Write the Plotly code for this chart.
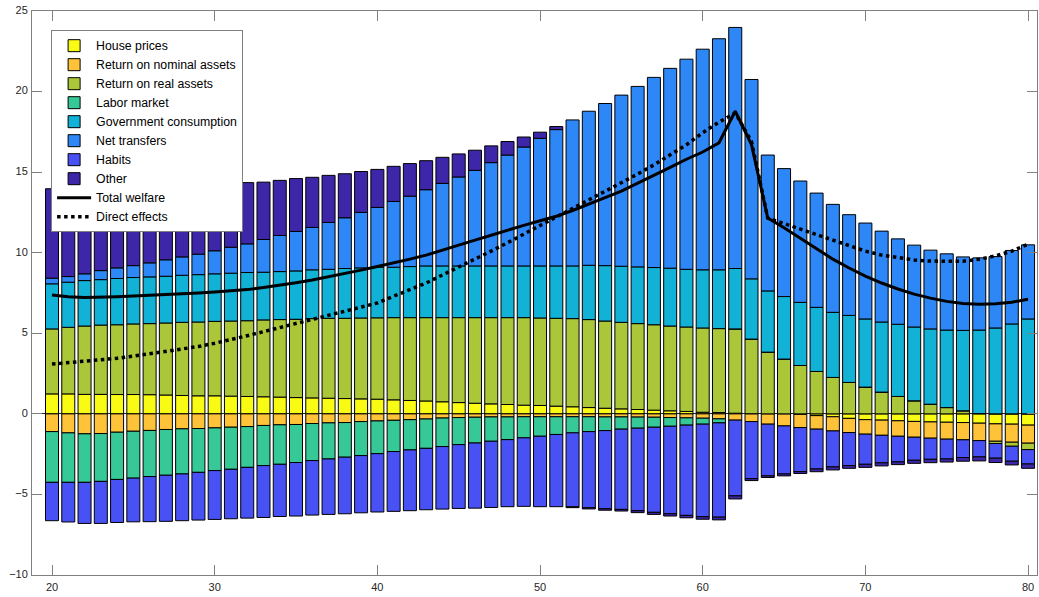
import plotly.graph_objects as go

ages = list(range(20, 81))

house = [1.24, 1.24, 1.21, 1.21, 1.20, 1.20, 1.19, 1.17, 1.14, 1.12,
         1.12, 1.10, 1.08, 1.06, 1.04, 1.01, 0.99, 0.97, 0.95, 0.93,
         0.91, 0.87, 0.83, 0.80, 0.75, 0.70, 0.66, 0.62, 0.58, 0.54,
         0.52, 0.48, 0.44, 0.39, 0.35, 0.31, 0.27, 0.23, 0.19, 0.15,
         0.10, 0.08, 0.04, 0.01, 0.00, 0.00, -0.03, -0.11, -0.18, -0.28,
         -0.36, -0.39, -0.43, -0.47, -0.50, -0.52, -0.54, -0.58, -0.62, -0.64,
         -0.70]

nominal = [-1.10, -1.18, -1.24, -1.22, -1.14, -1.08, -1.03, -0.97, -0.93, -0.91,
           -0.87, -0.83, -0.79, -0.72, -0.68, -0.66, -0.60, -0.56, -0.54, -0.48,
           -0.44, -0.40, -0.36, -0.32, -0.26, -0.23, -0.21, -0.19, -0.19, -0.18,
           -0.18, -0.18, -0.18, -0.18, -0.19, -0.19, -0.20, -0.21, -0.23, -0.25,
           -0.27, -0.31, -0.39, -0.48, -0.64, -0.75, -0.82, -0.84, -0.88, -0.88,
           -0.90, -0.94, -0.96, -0.98, -1.01, -1.05, -1.07, -1.08, -1.08, -1.12,
           -1.12]

real = [4.03, 4.13, 4.24, 4.30, 4.33, 4.38, 4.41, 4.47, 4.54, 4.58,
        4.62, 4.66, 4.70, 4.77, 4.81, 4.86, 4.92, 4.96, 4.98, 5.02,
        5.05, 5.10, 5.14, 5.17, 5.22, 5.27, 5.31, 5.35, 5.39, 5.43,
        5.43, 5.45, 5.47, 5.46, 5.41, 5.37, 5.33, 5.30, 5.26, 5.24,
        5.23, 5.21, 5.23, 4.63, 3.83, 3.40, 3.00, 2.63, 2.26, 1.95,
        1.66, 1.35, 1.08, 0.81, 0.60, 0.39, 0.19, 0.02, -0.14, -0.25,
        -0.40]

labor = [-3.15, -3.07, -3.01, -2.97, -2.93, -2.91, -2.86, -2.84, -2.80, -2.72,
         -2.65, -2.61, -2.53, -2.49, -2.45, -2.36, -2.30, -2.24, -2.15, -2.11,
         -2.03, -1.94, -1.88, -1.82, -1.77, -1.68, -1.60, -1.51, -1.41, -1.31,
         -1.21, -1.10, -1.00, -0.92, -0.85, -0.76, -0.69, -0.62, -0.54, -0.45,
         -0.37, -0.25, 0.0, 0.0, 0.0, 0.0, 0.0, 0.0, 0.0, 0.0,
         0.0, 0.0, 0.0, 0.0, 0.0, 0.0, 0.0, 0.0, 0.0, 0.0,
         0.0]

gov = [2.80, 2.80, 2.82, 2.82, 2.87, 2.88, 2.90, 2.90, 2.92, 2.94,
       2.95, 2.97, 2.99, 2.96, 2.98, 3.00, 3.03, 3.04, 3.09, 3.11,
       3.14, 3.13, 3.17, 3.21, 3.21, 3.21, 3.21, 3.21, 3.21, 3.21,
       3.23, 3.25, 3.27, 3.37, 3.44, 3.48, 3.52, 3.55, 3.59, 3.58,
       3.61, 3.65, 3.75, 3.74, 3.80, 3.88, 3.92, 3.98, 4.04, 4.16,
       4.23, 4.35, 4.48, 4.58, 4.67, 4.81, 4.99, 5.18, 5.33, 5.58,
       5.89]

transfers = [0.35, 0.35, 0.42, 0.56, 0.66, 0.74, 0.87, 1.02, 1.14, 1.27,
             1.43, 1.61, 1.78, 2.03, 2.24, 2.45, 2.63, 2.91, 3.15, 3.44,
             3.71, 4.08, 4.37, 4.73, 5.12, 5.52, 5.93, 6.41, 6.88, 7.38,
             7.92, 8.46, 9.06, 9.56, 10.06, 10.62, 11.20, 11.80, 12.40, 13.04,
             13.69, 14.34, 14.96, 12.37, 8.43, 7.94, 7.53, 7.09, 6.70, 6.25,
             5.95, 5.64, 5.30, 5.08, 4.89, 4.73, 4.56, 4.48, 4.43, 4.56,
             4.60]

habits = [-2.38, -2.46, -2.55, -2.61, -2.67, -2.71, -2.80, -2.86, -2.90, -2.96,
          -3.03, -3.07, -3.15, -3.22, -3.24, -3.32, -3.38, -3.44, -3.51, -3.55,
          -3.62, -3.71, -3.77, -3.81, -3.88, -3.96, -4.04, -4.11, -4.16, -4.25,
          -4.37, -4.48, -4.59, -4.73, -4.85, -4.98, -5.12, -5.28, -5.43, -5.60,
          -5.74, -5.85, -4.70, -3.54, -3.21, -2.98, -2.73, -2.47, -2.23, -2.05,
          -1.87, -1.71, -1.59, -1.43, -1.31, -1.23, -1.10, -1.01, -0.91, -0.93,
          -0.89]

other = [5.55, 5.48, 5.34, 5.17, 5.03, 4.92, 4.78, 4.62, 4.47, 4.34,
         4.16, 3.97, 3.80, 3.56, 3.42, 3.28, 3.11, 2.92, 2.73, 2.54,
         2.36, 2.18, 2.02, 1.80, 1.62, 1.43, 1.25, 1.04, 0.84, 0.62,
         0.38, 0.19, -0.05, -0.07, -0.09, -0.10, -0.12, -0.13, -0.14, -0.15,
         -0.16, -0.17, -0.19, -0.12, -0.10, -0.12, -0.12, -0.17, -0.19, -0.17,
         -0.19, -0.19, -0.17, -0.19, -0.21, -0.19, -0.23, -0.25, -0.27, -0.23,
         -0.27]

total_welfare = [7.38, 7.27, 7.22, 7.23, 7.27, 7.31, 7.35, 7.40, 7.45, 7.50,
                 7.56, 7.63, 7.71, 7.84, 7.98, 8.14, 8.31, 8.50, 8.70, 8.92,
                 9.14, 9.35, 9.60, 9.85, 10.17, 10.47, 10.78, 11.08, 11.40, 11.70,
                 11.98, 12.26, 12.62, 13.00, 13.42, 13.82, 14.30, 14.80, 15.30, 15.80,
                 16.25, 16.82, 18.78, 16.71, 12.15, 11.55, 10.90, 10.25, 9.60, 9.05,
                 8.55, 8.12, 7.75, 7.43, 7.18, 6.98, 6.85, 6.80, 6.83, 6.93,
                 7.11]

direct_effects = [3.09, 3.17, 3.25, 3.35, 3.45, 3.58, 3.72, 3.86, 4.02, 4.18,
                  4.38, 4.60, 4.85, 5.10, 5.35, 5.60, 5.83, 6.08, 6.34, 6.58,
                  6.88, 7.30, 7.70, 8.12, 8.62, 9.10, 9.60, 10.10, 10.62, 11.15,
                  11.65, 12.18, 12.72, 13.25, 13.80, 14.30, 14.88, 15.45, 16.05, 16.70,
                  17.45, 18.10, 18.68, 16.90, 12.15, 11.80, 11.50, 11.10, 10.75, 10.40,
                  10.10, 9.85, 9.68, 9.55, 9.48, 9.45, 9.47, 9.60, 9.80, 10.10,
                  10.53]

bar_series = [
    ("House prices", house, "#F9FB15"),
    ("Return on nominal assets", nominal, "#FEC338"),
    ("Return on real assets", real, "#ABC739"),
    ("Labor market", labor, "#37C897"),
    ("Government consumption", gov, "#12B1D6"),
    ("Net transfers", transfers, "#2E87F7"),
    ("Habits", habits, "#4852F4"),
    ("Other", other, "#3E26A8"),
]

fig = go.Figure()
for name, vals, col in bar_series:
    fig.add_trace(go.Bar(
        x=ages, y=vals, name=name, width=0.8,
        marker=dict(color=col, line=dict(color="black", width=1)),
    ))

fig.add_trace(go.Scatter(x=ages, y=total_welfare, name="Total welfare", mode="lines",
                         line=dict(color="black", width=3)))
fig.add_trace(go.Scatter(x=ages, y=direct_effects, name="Direct effects", mode="lines",
                         line=dict(color="black", width=3.5, dash="dot")))

axis_common = dict(
    showline=True, linecolor="#808080", linewidth=1, mirror="ticks",
    ticks="inside", ticklen=10, tickcolor="#808080", tickwidth=1,
    showgrid=False, ticklabeloverflow="allow", automargin=False,
    tickfont=dict(family="Liberation Sans, Arial, sans-serif", size=11, color="#262626"),
)

fig.update_layout(
    width=1039, height=597,
    margin=dict(l=32, r=2, t=11, b=22),
    paper_bgcolor="white", plot_bgcolor="white",
    barmode="relative",
    font=dict(family="Liberation Sans, Arial, sans-serif"),
    xaxis=dict(range=[18.77, 80.55], tickvals=[20, 30, 40, 50, 60, 70, 80],
               zeroline=False, ticklabelstandoff=2, **axis_common),
    yaxis=dict(range=[-10, 25], tickvals=[-10, -5, 0, 5, 10, 15, 20, 25],
               zeroline=True, zerolinecolor="#262626", zerolinewidth=1,
               ticklabelstandoff=1, ticklabelshift=-1, **axis_common),
    legend=dict(x=0.019, y=0.966, xanchor="left", yanchor="top",
                bgcolor="white", bordercolor="#808080", borderwidth=1,
                font=dict(size=12.3, color="black"), traceorder="normal",
                tracegroupgap=0, itemwidth=34),
    showlegend=True,
)

# remove the default page margin so the figure fills the window exactly
fig.write_html("out.html",
               config={"displayModeBar": False},
               post_script="document.body.style.margin='0';document.body.style.overflow='hidden';")
